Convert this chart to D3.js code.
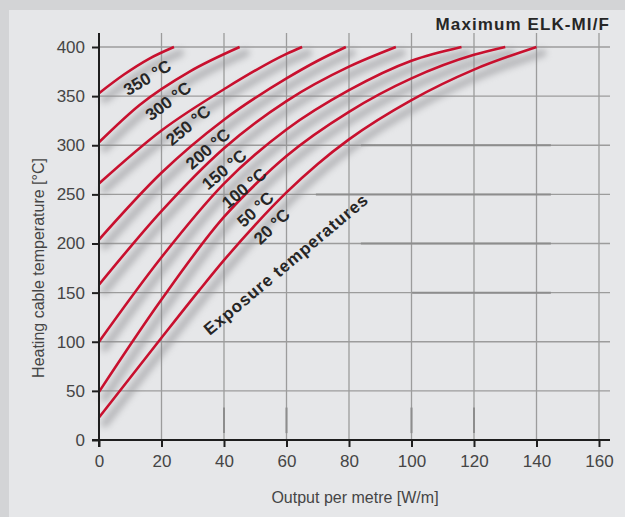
<!DOCTYPE html>
<html>
<head>
<meta charset="utf-8">
<script src="https://cdn.jsdelivr.net/npm/d3@7"></script>
<style>
  body { margin: 0; background: #d3d4d6; }
  text { font-family: "Liberation Sans", Arial, Helvetica, sans-serif; }
</style>
</head>
<body>
<svg id="chart"></svg>
<script>
const xTicks = [0, 20, 40, 60, 80, 100, 120, 140, 160];
const yTicks = [0, 50, 100, 150, 200, 250, 300, 350, 400];
const exposureTemps = [350, 300, 250, 200, 150, 100, 50, 20];

// [output per metre W/m, heating cable temperature °C]
const t350 = [[0, 353], [8, 372], [16, 388], [24, 400]];
const t300 = [[0, 303], [13, 341], [29, 375], [45, 400]];
const t250 = [[0, 261], [20, 315], [40, 357], [60, 393], [65, 400]];
const t200 = [[0, 204], [20, 272], [40, 326], [60, 368], [70, 386], [79, 400]];
const t150 = [[0, 158], [20, 233], [40, 297], [60, 345], [80, 380], [95, 400]];
const t100 = [[0, 100], [20, 186], [40, 261], [60, 316], [80, 356], [100, 386], [116, 400]];
const t50  = [[0, 49], [20, 143], [40, 227], [50, 260], [60, 289], [80, 334], [100, 368], [120, 392], [130, 400]];
const t20  = [[0, 23], [20, 104], [32, 152], [40, 183], [50, 219], [60, 252], [70, 281], [80, 306], [100, 346], [120, 377], [140, 400]];

// where each temperature label sits (data units) and its slant
const labelAt = [[15.4, 369], [22.1, 345], [28.5, 320.5], [34.8, 296.5], [40, 275.5], [46.4, 256.5], [50, 235], [55.2, 217.5]];
const labelAngle = [-31, -37, -40, -41, -40, -40, -43, -44];

// darker stretches left on some grid lines: [value, from, to]
const darkH = [[300, 83.8, 144.6], [250, 69.4, 144.6], [200, 83.8, 144.6], [150, 100.2, 144.6]];
const darkV = [[40, 7, 33], [60, 7, 33], [100, 7, 33], [120, 7, 33]];

class CableChart {
    constructor (config, data) {
        this.config = {
            parent: config.parent,
            width: config.width || 625,
            height: config.height || 517,
            margin: config.margin || {top:47, right:26, bottom:77, left:99},
            title: config.title || '',
            xlabel: config.xlabel || '',
            ylabel: config.ylabel || ''
        };
        this.data = data;
        this.init();
    }

    init() {
        let self = this;

        self.svg = d3.select(self.config.parent)
            .attr('width', self.config.width)
            .attr('height', self.config.height);

        self.svg.append('rect')
            .attr('width', self.config.width)
            .attr('height', self.config.height)
            .attr('fill', '#d3d4d6');

        self.svg.append('rect')
            .attr('x', 9)
            .attr('y', 10)
            .attr('width', self.config.width - 9)
            .attr('height', self.config.height - 10)
            .attr('fill', '#e6e7e9');

        const defs = self.svg.append('defs');
        defs.append('filter')
            .attr('id', 'blur')
            .attr('x', '-20%').attr('y', '-20%')
            .attr('width', '140%').attr('height', '140%')
            .append('feGaussianBlur')
            .attr('stdDeviation', 3.2);

        self.chart = self.svg.append('g')
            .attr('transform', `translate(${self.config.margin.left}, ${self.config.margin.top})`);

        self.inner_width = self.config.width - self.config.margin.left - self.config.margin.right;
        self.inner_height = self.config.height - self.config.margin.top - self.config.margin.bottom;

        self.xscale = d3.scaleLinear()
            .range([0, self.inner_width]);

        self.yscale = d3.scaleLinear()
            .range([self.inner_height, 0]);

        self.grid_group = self.chart.append('g');
        self.shadow_group = self.chart.append('g');
        self.line_group = self.chart.append('g');
        self.label_group = self.chart.append('g');
        self.axis_group = self.chart.append('g');

        self.xaxis = d3.axisBottom(self.xscale)
            .tickValues(xTicks)
            .tickSize(7)
            .tickPadding(8);

        self.yaxis = d3.axisLeft(self.yscale)
            .tickValues(yTicks)
            .tickSize(7)
            .tickPadding(7);

        self.xaxis_group = self.axis_group.append('g')
            .attr('transform', `translate(0, ${self.inner_height})`);

        self.yaxis_group = self.axis_group.append('g');

        self.svg.append('text')
            .attr('x', 610)
            .attr('y', 30)
            .attr('text-anchor', 'end')
            .style('font-size', '17px')
            .style('font-weight', 'bold')
            .style('letter-spacing', '1.1px')
            .attr('fill', '#262626')
            .text(self.config.title);

        self.svg.append('text')
            .attr('x', 355)
            .attr('y', 503)
            .attr('text-anchor', 'middle')
            .style('font-size', '16px')
            .attr('fill', '#454545')
            .text(self.config.xlabel);

        self.svg.append('text')
            .attr('transform', `translate(44, 268) rotate(-90)`)
            .attr('text-anchor', 'middle')
            .style('font-size', '16px')
            .attr('fill', '#454545')
            .text(self.config.ylabel);
    }

    update() {
        let self = this;

        self.xscale.domain([xTicks[0], xTicks[xTicks.length - 1]]);
        self.yscale.domain([yTicks[0], yTicks[yTicks.length - 1]]);

        self.line = d3.line()
            .x(d => self.xscale(d[0]))
            .y(d => self.yscale(d[1]))
            .curve(d3.curveMonotoneX);

        self.render();
    }

    render() {
        let self = this;
        const right = self.inner_width + 11;

        self.grid_group.selectAll('.vgrid')
            .data(xTicks.slice(1))
            .join('line')
            .attr('class', 'vgrid')
            .attr('x1', d => self.xscale(d))
            .attr('x2', d => self.xscale(d))
            .attr('y1', -14)
            .attr('y2', self.inner_height)
            .attr('stroke', '#9c9c9c')
            .attr('stroke-width', 1.3);

        self.grid_group.selectAll('.hgrid')
            .data(yTicks.slice(1))
            .join('line')
            .attr('class', 'hgrid')
            .attr('x1', 0)
            .attr('x2', right)
            .attr('y1', d => self.yscale(d))
            .attr('y2', d => self.yscale(d))
            .attr('stroke', '#9c9c9c')
            .attr('stroke-width', 1.3);

        self.grid_group.selectAll('.hdark')
            .data(darkH)
            .join('line')
            .attr('class', 'hdark')
            .attr('x1', d => self.xscale(d[1]))
            .attr('x2', d => self.xscale(d[2]))
            .attr('y1', d => self.yscale(d[0]))
            .attr('y2', d => self.yscale(d[0]))
            .attr('stroke', '#8d8d8d')
            .attr('stroke-width', 2);

        self.grid_group.selectAll('.vdark')
            .data(darkV)
            .join('line')
            .attr('class', 'vdark')
            .attr('x1', d => self.xscale(d[0]))
            .attr('x2', d => self.xscale(d[0]))
            .attr('y1', d => self.yscale(d[1]))
            .attr('y2', d => self.yscale(d[2]))
            .attr('stroke', '#8d8d8d')
            .attr('stroke-width', 2);

        self.shadow_group.selectAll('path')
            .data(self.data)
            .join('path')
            .attr('d', self.line)
            .attr('transform', 'translate(6, 6)')
            .attr('fill', 'none')
            .attr('stroke', '#8a8a8e')
            .attr('stroke-width', 8)
            .attr('stroke-linecap', 'round')
            .attr('opacity', 0.5)
            .attr('filter', 'url(#blur)');

        self.line_group.selectAll('path')
            .data(self.data)
            .join('path')
            .attr('d', self.line)
            .attr('fill', 'none')
            .attr('stroke', '#c8102e')
            .attr('stroke-width', 2.6);

        self.label_group.selectAll('text')
            .data(exposureTemps)
            .join('text')
            .attr('transform', (d, i) => `translate(${self.xscale(labelAt[i][0])}, ${self.yscale(labelAt[i][1])}) rotate(${labelAngle[i]})`)
            .attr('text-anchor', 'middle')
            .attr('dy', '0.36em')
            .style('font-size', '17px')
            .style('font-weight', 'bold')
            .attr('fill', '#262626')
            .text(d => `${d} °C`);

        self.label_group.append('text')
            .attr('transform', `translate(${self.xscale(59.8)}, ${self.yscale(179)}) rotate(-40)`)
            .attr('text-anchor', 'middle')
            .attr('dy', '0.36em')
            .style('font-size', '17px')
            .style('font-weight', 'bold')
            .style('letter-spacing', '0.9px')
            .attr('fill', '#262626')
            .text('Exposure temperatures');

        self.xaxis_group.call(self.xaxis);
        self.yaxis_group.call(self.yaxis);

        self.axis_group.selectAll('.domain').remove();
        self.axis_group.selectAll('.tick line')
            .attr('stroke', '#1e1e1e')
            .attr('stroke-width', 2);
        self.axis_group.selectAll('.tick text')
            .style('font-size', '17px')
            .attr('fill', '#454545');

        self.axis_group.append('line')
            .attr('x1', 0).attr('x2', 0)
            .attr('y1', -14).attr('y2', self.inner_height + 7)
            .attr('stroke', '#1e1e1e')
            .attr('stroke-width', 2);

        self.axis_group.append('line')
            .attr('x1', -7).attr('x2', right)
            .attr('y1', self.inner_height).attr('y2', self.inner_height)
            .attr('stroke', '#1e1e1e')
            .attr('stroke-width', 2);
    }
}

const chart = new CableChart({
    parent: '#chart',
    title: 'Maximum ELK-MI/F',
    xlabel: 'Output per metre [W/m]',
    ylabel: 'Heating cable temperature [°C]'
}, [t350, t300, t250, t200, t150, t100, t50, t20]);
chart.update();
</script>
</body>
</html>
